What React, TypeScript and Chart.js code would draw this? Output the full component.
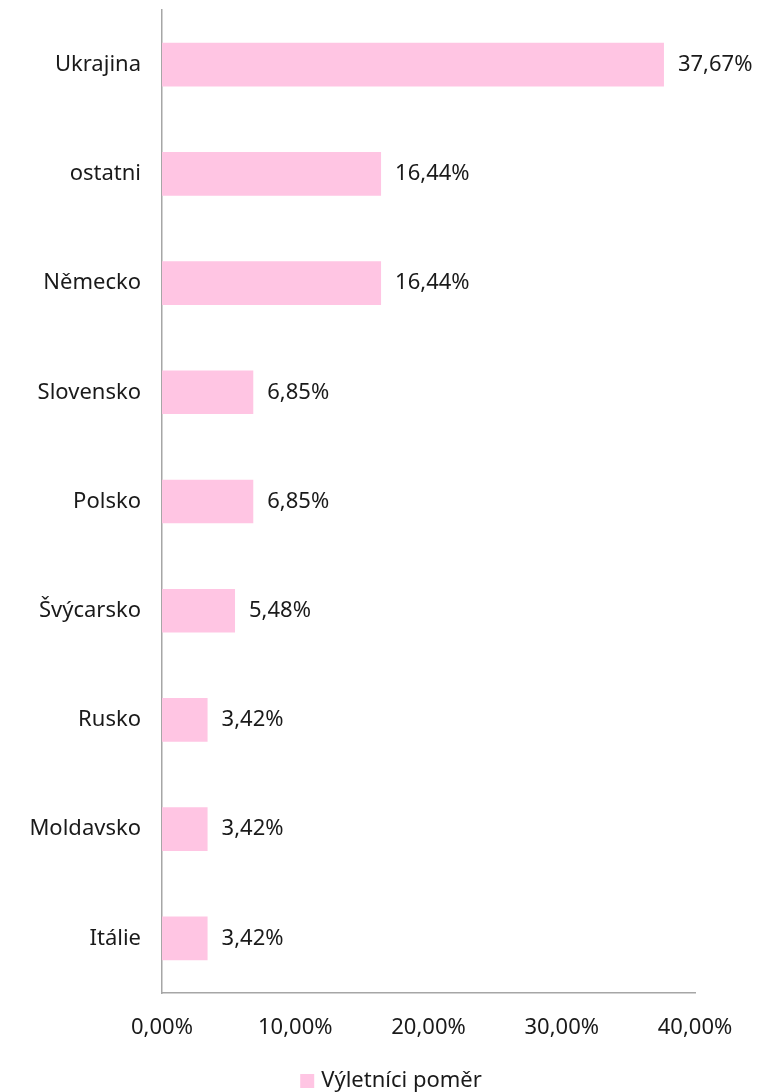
import React, { useEffect, useRef } from "react";
import { Chart, registerables } from "chart.js";

Chart.register(...registerables);

const categories = ["Ukrajina", "ostatni", "Německo", "Slovensko", "Polsko", "Švýcarsko", "Rusko", "Moldavsko", "Itálie"];
const values = [37.67, 16.44, 16.44, 6.85, 6.85, 5.48, 3.42, 3.42, 3.42];
const seriesName = "Výletníci poměr";
const xTicks = [0, 10, 20, 30, 40];

const FONT = "'Noto Sans', sans-serif";
const FS = 22;
const PINK = "#FFC5E3";
const TEXT = "#1a1a1a";

const fmt = (v: number) => v.toFixed(2).replace(".", ",") + "%";

const labelPlugin = {
  id: "barLabels",
  afterDatasetsDraw(chart: any) {
    const ctx = chart.ctx;
    const meta = chart.getDatasetMeta(0);
    ctx.save();
    ctx.font = `${FS}px ${FONT}`;
    ctx.fillStyle = TEXT;
    ctx.textAlign = "left";
    ctx.textBaseline = "middle";
    meta.data.forEach((bar: any, i: number) => {
      ctx.fillText(fmt(values[i]), bar.x + 14, bar.y);
    });
    ctx.restore();
  },
};

const legendPlugin = {
  id: "customLegend",
  afterDraw(chart: any) {
    const ctx = chart.ctx;
    ctx.save();
    ctx.font = `${FS}px ${FONT}`;
    const tw = ctx.measureText(seriesName).width;
    const box = 14;
    const gap = 7;
    const total = box + gap + tw;
    const cx = 391;
    const cy = 1081;
    const x0 = cx - total / 2;
    ctx.fillStyle = PINK;
    ctx.fillRect(x0, cy - box / 2, box, box);
    ctx.fillStyle = TEXT;
    ctx.textAlign = "left";
    ctx.textBaseline = "middle";
    ctx.fillText(seriesName, x0 + box + gap, cy);
    ctx.restore();
  },
};

export default function App() {
  const ref = useRef<HTMLCanvasElement>(null);
  useEffect(() => {
    const chart = new Chart(ref.current!, {
      type: "bar",
      data: {
        labels: categories,
        datasets: [
          {
            label: seriesName,
            data: values,
            backgroundColor: PINK,
            borderWidth: 0,
            barPercentage: 0.8,
            categoryPercentage: 0.5,
          },
        ],
      },
      options: {
        indexAxis: "y",
        animation: false,
        responsive: false,
        maintainAspectRatio: false,
        layout: { padding: { top: 10, right: 66, left: 0, bottom: 0 } },
        plugins: {
          legend: { display: false },
          tooltip: { enabled: false },
        },
        scales: {
          x: {
            min: 0,
            max: 40,
            afterBuildTicks: (scale: any) => {
              scale.ticks = xTicks.map((v) => ({ value: v }));
            },
            afterFit: (scale: any) => {
              scale.height = 99;
              scale.paddingLeft = 0;
              scale.paddingRight = 0;
            },
            ticks: {
              font: { family: FONT, size: FS },
              color: TEXT,
              padding: 22,
              maxRotation: 0,
              callback: (v: any) => fmt(Number(v)),
            },
            grid: { display: false, drawTicks: false },
            border: { display: true, color: "#A6A6A6", width: 1.5 },
          },
          y: {
            afterFit: (scale: any) => {
              scale.width = 162;
              scale.paddingTop = 0;
              scale.paddingBottom = 0;
            },
            ticks: {
              font: { family: FONT, size: FS },
              color: TEXT,
              padding: 21,
            },
            grid: { display: false, drawTicks: false },
            border: { display: true, color: "#A6A6A6", width: 1.5 },
          },
        },
      },
      plugins: [labelPlugin, legendPlugin],
    });
    return () => chart.destroy();
  }, []);
  return (
    <div style={{ position: "absolute", left: 0, top: 0, width: 761, height: 1092, background: "#fff" }}>
      <canvas ref={ref} width={761} height={1092} style={{ width: 761, height: 1092 }} />
    </div>
  );
}
